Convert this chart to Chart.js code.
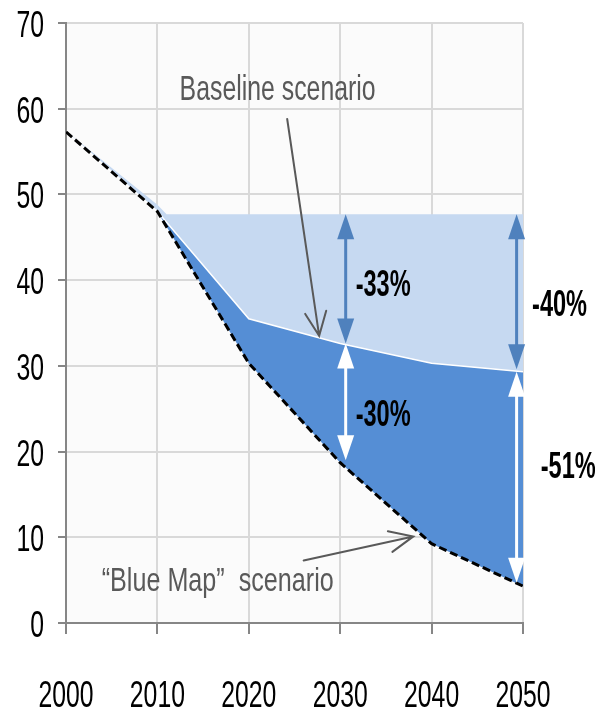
<!DOCTYPE html>
<html>
<head>
<meta charset="utf-8">
<script src="https://cdn.jsdelivr.net/npm/chart.js@4.4.1/dist/chart.umd.min.js"></script>
<style>
  html, body { margin: 0; padding: 0; background: #ffffff; }
  #wrap { width: 595px; height: 711px; }
</style>
</head>
<body>
<div id="wrap"><canvas id="chart" width="595" height="711"></canvas></div>
<script>
// Emissions pathways, 2000-2050
const years = [2000, 2010, 2020, 2030, 2040, 2050];
const blueMapValues = [57.3, 48.0, 30.3, 18.7, 9.25, 4.3];
const baselineValues = [57.3, 48.0, 35.5, 32.6, 30.3, 29.3];
const ceilingYears = [2000, 2010, 2011, 2020, 2030, 2040, 2050];
const ceilingValues = [57.4, 48.8, 47.7, 47.7, 47.7, 47.7, 47.7];

const yearTickLabels = ['2000', '2010', '2020', '2030', '2040', '2050'];
const valueTickLabels = ['0', '10', '20', '30', '40', '50', '60', '70'];

// Reduction spans: year, upper value, lower value, label
const spanYears = [2030.6, 2049.3, 2030.6, 2049.3];
const spanTop = [47.7, 47.7, 32.6, 29.3];
const spanBottom = [32.6, 29.6, 19.0, 4.7];
const spanLabels = ['-33%', '-40%', '-30%', '-51%'];

const FONT = "'Liberation Sans', Arial, sans-serif";

const toPoints = (xs, ys) => xs.map((x, i) => ({ x: x, y: ys[i] }));

// plot area tint
const plotBackground = {
  id: 'plotBackground',
  beforeDraw(chart) {
    const { ctx, chartArea: a } = chart;
    ctx.save();
    ctx.fillStyle = '#fbfbfb';
    ctx.fillRect(a.left, a.top, a.right - a.left, a.bottom - a.top);
    ctx.restore();
  }
};

// condensed text: either a fixed horizontal squeeze or a target width
function condensedText(ctx, text, x, y, size, weight, color, opts) {
  ctx.save();
  ctx.font = weight + ' ' + size + 'px ' + FONT;
  let k = opts.squeeze;
  if (opts.width) k = opts.width / ctx.measureText(text).width;
  ctx.translate(x, y);
  ctx.scale(k, 1);
  ctx.fillStyle = color;
  ctx.textAlign = opts.align || 'center';
  ctx.textBaseline = 'alphabetic';
  ctx.fillText(text, 0, 0);
  ctx.restore();
}

// axis labels in a tall condensed face, placed at the scales' own tick positions
const condensedTicks = {
  id: 'condensedTicks',
  afterDraw(chart) {
    const { ctx } = chart;
    const sx = chart.scales.x, sy = chart.scales.y;
    sx.ticks.forEach((t, i) => {
      condensedText(ctx, yearTickLabels[i], sx.getPixelForValue(t.value), sy.bottom + 84, 37, 'normal', '#000000', { squeeze: 0.67 });
    });
    sy.ticks.forEach((t, i) => {
      condensedText(ctx, valueTickLabels[i], sx.left - 22, sy.getPixelForValue(t.value) + 14, 37, 'normal', '#000000', { squeeze: 0.67, align: 'right' });
    });
  }
};

function doubleArrow(ctx, x, y1, y2, color) {
  const head = 25, half = 8.5;
  ctx.save();
  ctx.strokeStyle = color;
  ctx.fillStyle = color;
  ctx.lineWidth = 3;
  ctx.beginPath();
  ctx.moveTo(x, y1 + head - 2);
  ctx.lineTo(x, y2 - head + 2);
  ctx.stroke();
  ctx.beginPath();
  ctx.moveTo(x, y1);
  ctx.lineTo(x - half, y1 + head);
  ctx.lineTo(x + half, y1 + head);
  ctx.closePath();
  ctx.fill();
  ctx.beginPath();
  ctx.moveTo(x, y2);
  ctx.lineTo(x - half, y2 - head);
  ctx.lineTo(x + half, y2 - head);
  ctx.closePath();
  ctx.fill();
  ctx.restore();
}

function openArrow(ctx, x1, y1, x2, y2) {
  const ang = Math.atan2(y2 - y1, x2 - x1);
  const len = 26, spread = 0.42;
  ctx.save();
  ctx.strokeStyle = '#595959';
  ctx.lineWidth = 2;
  ctx.lineCap = 'round';
  ctx.beginPath();
  ctx.moveTo(x1, y1);
  ctx.lineTo(x2, y2);
  ctx.moveTo(x2 - len * Math.cos(ang - spread), y2 - len * Math.sin(ang - spread));
  ctx.lineTo(x2, y2);
  ctx.lineTo(x2 - len * Math.cos(ang + spread), y2 - len * Math.sin(ang + spread));
  ctx.stroke();
  ctx.restore();
}

const annotations = {
  id: 'annotations',
  afterDatasetsDraw(chart) {
    const { ctx } = chart;
    const sx = chart.scales.x, sy = chart.scales.y;
    const px = v => sx.getPixelForValue(v);
    const py = v => sy.getPixelForValue(v);

    // scenario callouts
    condensedText(ctx, 'Baseline scenario', px(2023.15), py(61.0), 35, 'normal', '#595959', { width: 196 });
    openArrow(ctx, px(2024.2), py(58.8), px(2027.7), py(33.5));
    condensedText(ctx, '\u201CBlue Map\u201D  scenario', px(2016.6), py(3.7), 34, 'normal', '#595959', { width: 232 });
    openArrow(ctx, px(2026.0), py(7.3), px(2038.0), py(10.1));

    // reduction spans
    const colors = ['#4f81bd', '#4f81bd', '#ffffff', '#ffffff'];
    const labelYears = [2034.7, 2054.0, 2034.7, 2054.95];
    const labelBase = [38.2, 35.85, 23.0, 16.9];
    spanYears.forEach((yr, i) => {
      doubleArrow(ctx, px(yr), py(spanTop[i]), py(spanBottom[i]), colors[i]);
      condensedText(ctx, spanLabels[i], px(labelYears[i]), py(labelBase[i]), 37, 'bold', '#000000', { width: 55 });
    });
  }
};

new Chart(document.getElementById('chart'), {
  type: 'line',
  data: {
    datasets: [
      {
        label: 'Blue Map',
        data: toPoints(years, blueMapValues),
        borderColor: '#000000',
        borderWidth: 3,
        borderDash: [8, 4],
        pointRadius: 0,
        fill: false
      },
      {
        label: 'Baseline',
        data: toPoints(years, baselineValues),
        borderColor: '#ffffff',
        borderWidth: 1.5,
        backgroundColor: '#558ed5',
        pointRadius: 0,
        fill: '-1'
      },
      {
        label: 'Ceiling',
        data: toPoints(ceilingYears, ceilingValues),
        borderWidth: 0,
        borderColor: 'rgba(0,0,0,0)',
        backgroundColor: '#c6d9f1',
        pointRadius: 0,
        fill: '-1'
      }
    ]
  },
  options: {
    responsive: false,
    animation: false,
    events: [],
    layout: { padding: { top: 23, right: 72, left: 0, bottom: 0 } },
    elements: { line: { tension: 0 } },
    plugins: { legend: { display: false }, tooltip: { enabled: false } },
    scales: {
      x: {
        type: 'linear',
        min: 2000,
        max: 2050,
        afterFit: s => { s.height = 88; s.paddingLeft = 0; s.paddingRight = 0; },
        ticks: { stepSize: 10, display: false },
        grid: { color: '#d9d9d9', lineWidth: 2, tickColor: '#868686', tickLength: 11, tickWidth: 2 },
        border: { color: '#868686', width: 2 }
      },
      y: {
        min: 0,
        max: 70,
        afterFit: s => { s.width = 66; s.paddingTop = 0; s.paddingBottom = 0; },
        ticks: { stepSize: 10, display: false },
        grid: { color: '#d9d9d9', lineWidth: 2, tickColor: '#868686', tickLength: 8, tickWidth: 2 },
        border: { color: '#868686', width: 2 }
      }
    }
  },
  plugins: [plotBackground, annotations, condensedTicks]
});
</script>
</body>
</html>
